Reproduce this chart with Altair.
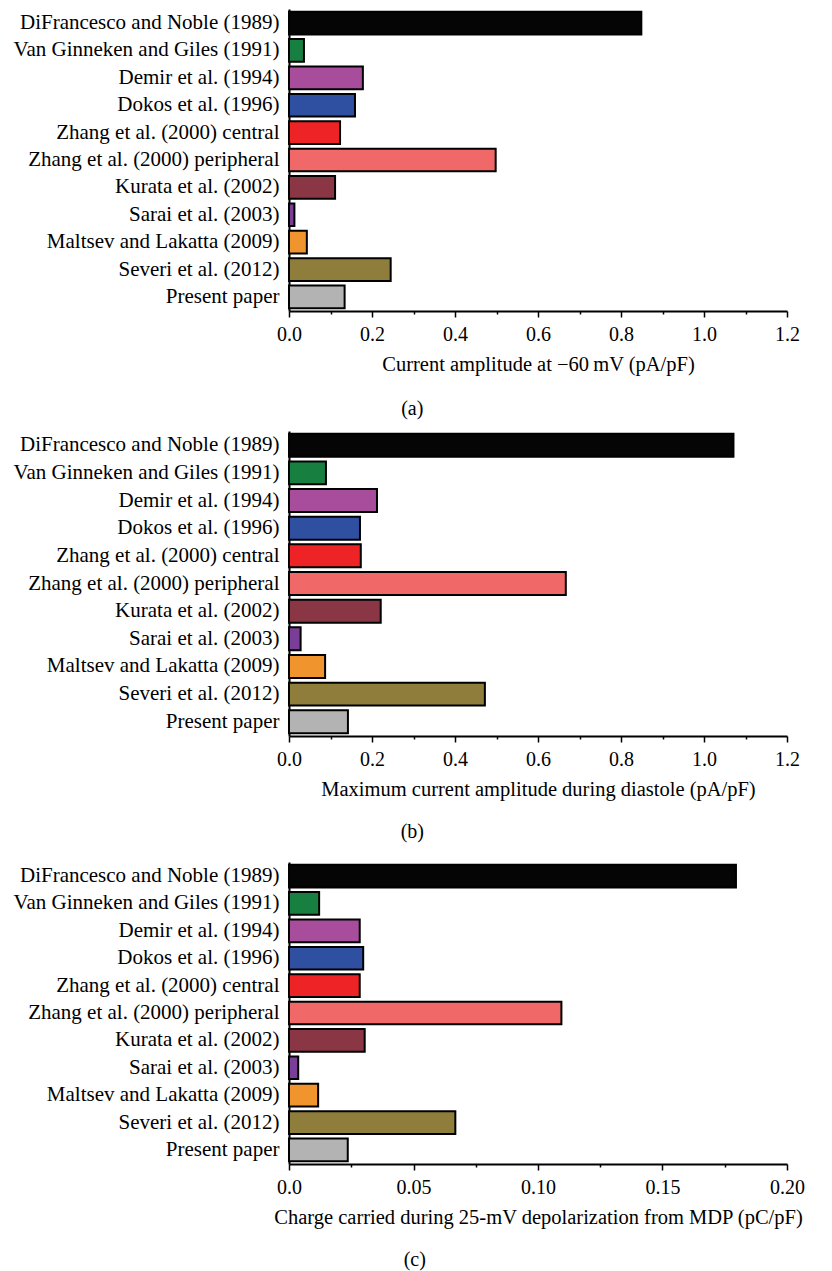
import altair as alt
import pandas as pd

FONT = "Liberation Serif"

models = [
    "DiFrancesco and Noble (1989)",
    "Van Ginneken and Giles (1991)",
    "Demir et al. (1994)",
    "Dokos et al. (1996)",
    "Zhang et al. (2000) central",
    "Zhang et al. (2000) peripheral",
    "Kurata et al. (2002)",
    "Sarai et al. (2003)",
    "Maltsev and Lakatta (2009)",
    "Severi et al. (2012)",
    "Present paper",
]
colors = ["#050505", "#178040", "#A84D9C", "#2F4FA0", "#EE2325", "#F06868",
          "#8B3645", "#7B3E98", "#F0952D", "#8F7D3C", "#B3B3B3"]

amp_at_minus60 = [0.849, 0.036, 0.178, 0.159, 0.123, 0.498, 0.111, 0.013, 0.043, 0.245, 0.134]
max_diastole = [1.071, 0.089, 0.212, 0.171, 0.173, 0.667, 0.221, 0.028, 0.087, 0.472, 0.142]
charge_mdp = [0.1795, 0.0121, 0.0284, 0.0298, 0.0284, 0.1094, 0.0304, 0.0037, 0.0117, 0.0668, 0.0236]

ticks_ab = [0.0, 0.1, 0.2, 0.3, 0.4, 0.5, 0.6, 0.7, 0.8, 0.9, 1.0, 1.1, 1.2]
labels_ab = ["0.0", "", "0.2", "", "0.4", "", "0.6", "", "0.8", "", "1.0", "", "1.2"]
ticks_c = [0.0, 0.025, 0.05, 0.075, 0.1, 0.125, 0.15, 0.175, 0.2]
labels_c = ["0.0", "", "0.05", "", "0.10", "", "0.15", "", "0.20"]

titles = [
    "Current amplitude at \u221260\u2009mV (pA/pF)",
    "Maximum current amplitude during diastole (pA/pF)",
    "Charge carried during 25-mV depolarization from MDP (pC/pF)",
]
captions = ["(a)", "(b)", "(c)"]


def panel(values, title, caption, ticks, labels, height, cap_offset):
    df = pd.DataFrame({"model": models, "value": values})
    minor = ticks[1] - ticks[0]
    arr = "[" + ",".join("'" + s + "'" for s in labels) + "]"
    label_expr = f"{arr}[round(datum.value/{minor})]"
    major_test = f"round(datum.value/{minor}) % 2 == 0"
    return alt.Chart(df).mark_bar(stroke="black", strokeWidth=2).encode(
        x=alt.X(
            "value:Q",
            scale=alt.Scale(domain=[ticks[0], ticks[-1]], nice=False),
            axis=alt.Axis(
                title=title,
                values=ticks,
                labelExpr=label_expr,
                tickSize={"condition": {"test": major_test, "value": 6}, "value": 3},
                tickWidth=1.5,
                tickColor="black",
                domainColor="black",
                domainWidth=2,
                labelFlush=False,
                labelPadding=7,
                labelFont=FONT,
                labelFontSize=20,
                labelColor="black",
                titleFont=FONT,
                titleFontSize=20.5,
                titleFontWeight="normal",
                titleColor="black",
                titlePadding=10,
                grid=False,
            ),
        ),
        y=alt.Y(
            "model:N",
            sort=models,
            title=None,
            scale=alt.Scale(paddingInner=0.17, paddingOuter=0.1),
            axis=alt.Axis(
                ticks=False,
                domainColor="black",
                domainWidth=2,
                labelFont=FONT,
                labelFontSize=21,
                labelColor="black",
                labelPadding=10,
                labelLimit=0,
                grid=False,
            ),
        ),
        color=alt.Color("model:N", scale=alt.Scale(domain=models, range=colors), legend=None),
    ).properties(
        width=498,
        height=height,
        title=alt.TitleParams(
            caption, orient="bottom", anchor="middle", frame="bounds", dx=6,
            font=FONT, fontSize=20, fontWeight="normal", color="black", offset=cap_offset,
        ),
    )


pa = panel(amp_at_minus60, titles[0], captions[0], ticks_ab, labels_ab, 302, 24)
pb = panel(max_diastole, titles[1], captions[1], ticks_ab, labels_ab, 305, 22)
pc = panel(charge_mdp, titles[2], captions[2], ticks_c, labels_c, 302, 22)

chart = alt.vconcat(
    alt.vconcat(pa, pb, spacing=11),
    pc,
    spacing=19,
).properties(
    padding={"left": 4, "top": 0, "right": 5, "bottom": 5}
).configure_view(stroke="transparent")

chart.save("out.html", embed_options={"renderer": "svg", "actions": False})
